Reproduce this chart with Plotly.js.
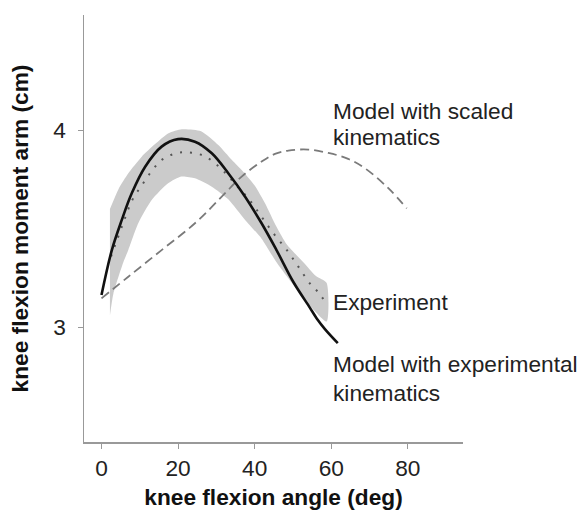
<!DOCTYPE html>
<html>
<head>
<meta charset="utf-8">
<script src="https://cdn.plot.ly/plotly-3.0.1.min.js"></script>
<style>
html,body{margin:0;padding:0;background:#fff;}
#chart{width:582px;height:510px;}
</style>
</head>
<body>
<div id="chart"></div>
<script>
// Experiment: mean curve (dotted) and its grey band (upper / lower edges)
const expAngle = [2.5, 5.5, 8, 10.5, 13, 15.7, 18.3, 21, 23.5, 26.5, 29.2, 32, 35, 38.3, 41.8, 44.9, 48.4, 51.4, 54.4, 56.5, 58.4];
const expMean  = [3.36, 3.52, 3.645, 3.72, 3.79, 3.849, 3.876, 3.888, 3.886, 3.872, 3.84, 3.79, 3.725, 3.655, 3.561, 3.477, 3.392, 3.308, 3.223, 3.18, 3.13];

const bandUpperAngle = [2.2, 4.4, 7, 10.5, 14, 17.5, 21, 26, 30.5, 34, 37, 40, 42.7, 45.7, 48.4, 52.7, 56, 58.8];
const bandUpper      = [3.6, 3.7, 3.782, 3.866, 3.93, 3.985, 4.005, 3.995, 3.925, 3.85, 3.79, 3.72, 3.63, 3.51, 3.42, 3.33, 3.26, 3.225];
const bandLowerAngle = [2.2, 3.1, 5.7, 7, 9.6, 13.1, 17.4, 20.9, 24.4, 28.8, 33.1, 37.5, 41.8, 45.7, 50.1, 54.4, 58.8];
const bandLower      = [3.06, 3.17, 3.33, 3.392, 3.528, 3.646, 3.731, 3.765, 3.756, 3.714, 3.65, 3.545, 3.45, 3.33, 3.215, 3.11, 3.03];

// Model with experimental kinematics (solid black)
const modelExpAngle = [0, 2.7, 5.3, 7.9, 11.4, 15.7, 20, 24.4, 28.8, 33.1, 37.5, 41.8, 45.7, 50.1, 54.4, 56.2, 58.4, 61.7];
const modelExpArm   = [3.164, 3.392, 3.545, 3.68, 3.815, 3.917, 3.955, 3.942, 3.883, 3.782, 3.663, 3.528, 3.392, 3.23, 3.1, 3.045, 2.99, 2.92];

// Model with scaled kinematics (dashed grey)
const modelScaledAngle = [0, 7, 15.7, 24.4, 31.4, 36.6, 41.8, 45.3, 48.8, 54, 59.2, 64.4, 68.8, 74.9, 79.7];
const modelScaledArm   = [3.147, 3.257, 3.392, 3.528, 3.663, 3.765, 3.841, 3.88, 3.897, 3.902, 3.885, 3.855, 3.807, 3.706, 3.604];

const xTicks = [0, 20, 40, 60, 80];
const yTicks = [3, 4];

const labels = {
  scaled1: "Model with scaled",
  scaled2: "kinematics",
  experiment: "Experiment",
  expKin1: "Model with experimental",
  expKin2: "kinematics"
};

const FONT = '"Liberation Sans", Arial, Helvetica, sans-serif';
const FS = 22.7;

const bandX = bandUpperAngle.concat(bandLowerAngle.slice().reverse());
const bandY = bandUpper.concat(bandLower.slice().reverse());

const traces = [
  {x: bandX, y: bandY, type: 'scatter', mode: 'lines', fill: 'toself',
   fillcolor: '#cbcbcb', line: {width: 0, color: '#cbcbcb', shape: 'spline', smoothing: 0.6}, hoverinfo: 'skip'},
  {x: expAngle, y: expMean, type: 'scatter', mode: 'lines',
   line: {color: '#555', width: 2, dash: '2px,8px', shape: 'spline'}},
  {x: modelScaledAngle, y: modelScaledArm, type: 'scatter', mode: 'lines',
   line: {color: '#7a7a7a', width: 1.8, dash: '9px,5px', shape: 'spline'}},
  {x: modelExpAngle, y: modelExpArm, type: 'scatter', mode: 'lines',
   line: {color: '#111', width: 2.6, shape: 'spline'}}
];

function ann(text, y) {
  return {x: 60.2, y: y, xref: 'x', yref: 'y', text: text, showarrow: false, borderpad: 0,
          xanchor: 'left', yanchor: 'middle', font: {family: FONT, size: FS, color: '#222'}};
}

const layout = {
  width: 582, height: 510,
  margin: {l: 84, r: 119, t: 15, b: 68},
  paper_bgcolor: '#fff', plot_bgcolor: '#fff',
  showlegend: false,
  font: {family: FONT, size: FS, color: '#222'},
  xaxis: {
    range: [-4.57, 94.4], tickvals: xTicks, ticktext: xTicks.map(String),
    showgrid: false, zeroline: false, showline: true, linecolor: '#999', linewidth: 1.5,
    ticks: 'outside', ticklen: 5, tickcolor: '#999', tickwidth: 1,
    tickfont: {family: FONT, size: FS, color: '#222'},
    title: {text: 'knee flexion angle (deg)', standoff: 17,
            font: {family: FONT, size: FS, color: '#111', weight: 'bold'}}
  },
  yaxis: {
    range: [2.418, 4.585], tickvals: yTicks, ticktext: yTicks.map(String),
    showgrid: false, zeroline: false, showline: true, linecolor: '#999', linewidth: 1.5,
    ticks: 'outside', ticklen: 5, tickcolor: '#999', tickwidth: 1, ticklabelstandoff: 7,
    tickfont: {family: FONT, size: FS, color: '#222'},
    title: {text: 'knee flexion moment arm (cm)', standoff: 18,
            font: {family: FONT, size: FS, color: '#111', weight: 'bold'}}
  },
  annotations: [
    ann(labels.scaled1, 4.1),
    ann(labels.scaled2, 3.968),
    ann(labels.experiment, 3.126),
    ann(labels.expKin1, 2.813),
    ann(labels.expKin2, 2.665)
  ]
};

Plotly.newPlot('chart', traces, layout, {displayModeBar: false, staticPlot: true});
</script>
</body>
</html>
